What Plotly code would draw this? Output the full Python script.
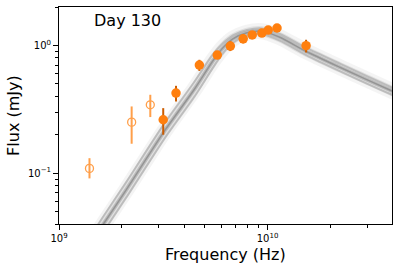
import plotly.graph_objects as go

# ---- data ----
freq_open = [1.40e9, 2.23e9, 2.74e9]
flux_open = [0.109, 0.251, 0.343]
err_hi_open = [0.022, 0.082, 0.068]
err_lo_open = [0.018, 0.081, 0.068]

freq_fill = [3.16e9, 3.64e9, 4.71e9, 5.74e9, 6.63e9, 7.64e9, 8.44e9, 9.39e9, 1.007e10, 1.11e10, 1.53e10]
flux_fill = [0.262, 0.424, 0.702, 0.841, 0.989, 1.128, 1.21, 1.25, 1.32, 1.37, 0.995]
err_hi_fill = [0.061, 0.059, 0.07, 0.05, 0.09, 0.10, 0.06, 0.06, 0.07, 0.07, 0.113]
err_lo_fill = [0.062, 0.060, 0.07, 0.05, 0.085, 0.09, 0.06, 0.06, 0.07, 0.07, 0.114]

model_freq = [1.49e9, 1.63e9, 2.10e9, 3.23e9, 4.44e9, 5.47e9, 6.11e9, 6.82e9, 7.96e9,
              9.39e9, 1.145e10, 1.525e10, 2.22e10, 3.93e10, 4.3e10]
model_mid = [0.0317, 0.0398, 0.0740, 0.218, 0.450, 0.759, 0.959, 1.128, 1.257,
             1.292, 1.159, 0.901, 0.675, 0.442, 0.415]
model_hi = [0.0365, 0.0458, 0.0851, 0.251, 0.515, 0.85, 1.04, 1.20, 1.32,
            1.36, 1.23, 0.96, 0.72, 0.47, 0.44]
model_lo = [0.0276, 0.0346, 0.0643, 0.190, 0.392, 0.67, 0.87, 1.05, 1.19,
            1.23, 1.09, 0.845, 0.63, 0.413, 0.39]

x_ticks = [1e9, 1e10]
x_ticktext = ["10<sup>9</sup>", "10<sup>10</sup>"]
y_ticks = [0.1, 1]
y_ticktext = ["10<sup>\u22121</sup>", "10<sup>0</sup>"]
x_minor = [2e9, 3e9, 4e9, 5e9, 6e9, 7e9, 8e9, 9e9, 2e10, 3e10]
y_minor = [0.04, 0.05, 0.06, 0.07, 0.08, 0.09, 0.2, 0.3, 0.4, 0.5, 0.6, 0.7, 0.8, 0.9, 2]

title_text = "Day 130"
x_label = "Frequency (Hz)"
y_label = "Flux (mJy)"

FONT = "DejaVu Sans"
fig = go.Figure()

def band(y, width, color):
    fig.add_trace(go.Scatter(x=model_freq, y=y, mode="lines",
                             line=dict(width=width, color=color, shape="spline", smoothing=0.7),
                             hoverinfo="skip", showlegend=False))

band(model_mid, 16, "rgba(150,150,150,0.10)")
band(model_mid, 10, "rgba(140,140,140,0.18)")
band(model_hi, 2, "rgba(120,120,120,0.35)")
band(model_lo, 2, "rgba(120,120,120,0.35)")
band(model_mid, 4, "rgba(120,120,120,0.35)")
band(model_mid, 1.5, "rgba(100,100,100,0.45)")

fig.add_trace(go.Scatter(
    x=freq_open, y=flux_open, mode="markers",
    marker=dict(symbol="circle-open", size=8, color="#ff9f4a", line=dict(width=1.3, color="#ff9f4a")),
    error_y=dict(type="data", array=err_hi_open, arrayminus=err_lo_open,
                 color="#ff9f4a", thickness=2, width=0),
    showlegend=False))

fig.add_trace(go.Scatter(
    x=freq_fill, y=flux_fill, mode="markers",
    marker=dict(symbol="circle", size=9.5, color="#ff7f0e"),
    error_y=dict(type="data", array=err_hi_fill, arrayminus=err_lo_fill,
                 color="#cc5c00", thickness=2, width=0),
    showlegend=False))

axis_common = dict(showline=True, linecolor="black", linewidth=1, mirror=True,
                   showgrid=False, zeroline=False, ticks="outside", ticklen=5,
                   tickwidth=1, tickcolor="black",
                   tickfont=dict(family=FONT, size=10, color="black"))

fig.update_xaxes(type="log", range=[9, 10.5966], tickmode="array", tickvals=x_ticks,
                 ticktext=x_ticktext,
                 minor=dict(tickmode="array", tickvals=x_minor, ticks="outside", ticklen=3,
                            tickwidth=1, tickcolor="black", showgrid=False),
                 **axis_common)
fig.update_yaxes(type="log", range=[-1.39794, 0.30103], tickmode="array", tickvals=y_ticks,
                 ticktext=y_ticktext,
                 minor=dict(tickmode="array", tickvals=y_minor, ticks="outside", ticklen=3,
                            tickwidth=1, tickcolor="black", showgrid=False),
                 **axis_common)

fig.update_layout(
    width=399, height=271,
    margin=dict(l=59, r=7, t=7, b=47),
    paper_bgcolor="white", plot_bgcolor="white",
    font=dict(family=FONT, color="black"),
    annotations=[
        dict(text=title_text, xref="paper", yref="paper", x=0.205, y=0.937,
             xanchor="center", yanchor="middle", showarrow=False,
             font=dict(family=FONT, size=16, color="black")),
        dict(text=x_label, xref="paper", yref="paper", x=0.5, y=-0.14,
             xanchor="center", yanchor="middle", showarrow=False,
             font=dict(family=FONT, size=16, color="black")),
        dict(text=y_label, xref="paper", yref="paper", x=-0.137, y=0.5,
             xanchor="center", yanchor="middle", textangle=-90, showarrow=False,
             font=dict(family=FONT, size=16, color="black")),
    ],
)

fig.write_html("out.html", config={"displayModeBar": False},
               post_script="document.body.style.margin='0';document.body.style.overflow='hidden';")
